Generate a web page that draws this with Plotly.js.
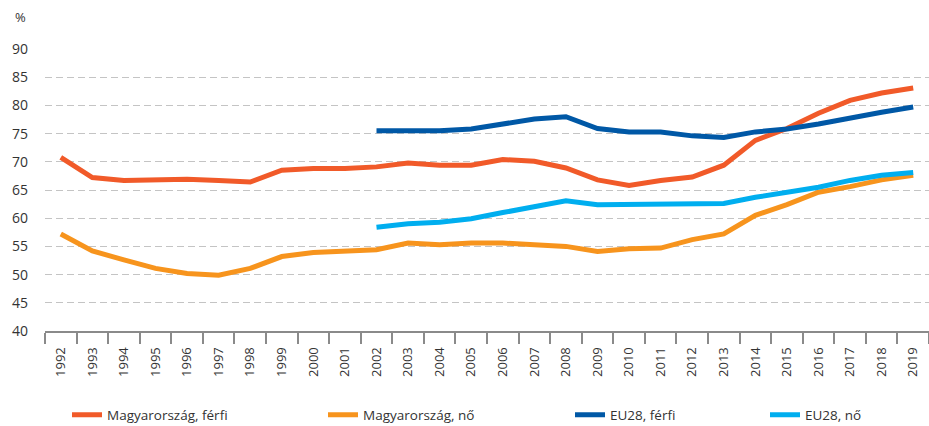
<!DOCTYPE html>
<html>
<head>
<meta charset="utf-8">
<script src="https://cdn.plot.ly/plotly-3.0.1.min.js"></script>
<style>html,body{margin:0;padding:0;background:#fff;}#chart{width:929px;height:426px;}</style>
</head>
<body>
<div id="chart"></div>
<script>
const years = ["1992","1993","1994","1995","1996","1997","1998","1999","2000","2001","2002","2003","2004","2005","2006","2007","2008","2009","2010","2011","2012","2013","2014","2015","2016","2017","2018","2019"];
const huMale   = [70.8,67.2,66.7,66.9,66.9,66.7,66.4,68.5,68.8,68.8,69.1,69.8,69.4,69.4,70.4,70.1,68.9,66.8,65.8,66.7,67.3,69.4,73.8,75.9,78.6,80.9,82.2,83.1];
const huFemale = [57.2,54.2,52.6,51.1,50.2,49.9,51.1,53.2,53.9,54.1,54.4,55.6,55.3,55.6,55.6,55.3,55.0,54.1,54.6,54.7,56.2,57.2,60.5,62.4,64.6,65.6,66.8,67.6];
const euMale   = [null,null,null,null,null,null,null,null,null,null,75.5,75.5,75.5,75.8,76.8,77.6,78.0,75.9,75.3,75.3,74.6,74.3,75.3,75.8,76.7,77.8,78.8,79.7];
const euFemale = [null,null,null,null,null,null,null,null,null,null,58.4,59.0,59.3,59.9,61.0,62.1,63.1,62.4,62.4,62.4,62.6,62.6,63.7,64.6,65.5,66.7,67.6,68.1];
const seriesNames = ["Magyarország, férfi","Magyarország, nő","EU28, férfi","EU28, nő"];
const yTicks = [40,45,50,55,60,65,70,75,80,85,90];

const colors = ["#F15A29","#F7941D","#0058A6","#00AEEF"];
const data = [huMale, huFemale, euMale, euFemale];
const legendIds = ["legend","legend2","legend3","legend4"];

const traces = data.map((d,i)=>({
  type:"scatter", mode:"lines", x:years, y:d, name:seriesNames[i],
  line:{color:colors[i], width:5}, connectgaps:false, legend:legendIds[i], hoverinfo:"skip"
}));

const fontFam = "'Open Sans', 'Noto Sans', sans-serif";
const L = 45, B = 95, T = 49, W = 929, H = 426;
const pw = W - L, ph = H - T - B;
function px2x(p){ return (p - L)/pw; }
function py2y(p){ return (H - B - p)/ph; }

const legendTextX = [107, 363, 610, 805];
const legendBase = {orientation:"h", bgcolor:"rgba(0,0,0,0)", font:{family:fontFam, size:13.5, color:"#333"}, yanchor:"middle", xanchor:"left", borderwidth:0, tracegroupgap:0};
const layout = {
  width:W, height:H,
  margin:{l:L, r:0, t:T, b:B, autoexpand:false},
  paper_bgcolor:"#fff", plot_bgcolor:"#fff",
  showlegend:true,
  xaxis:{
    type:"category", range:[-0.5, 27.5], showgrid:false, zeroline:false,
    showline:true, linecolor:"#8a8a8a", linewidth:2,
    ticks:"outside", tickson:"boundaries", ticklen:11, tickwidth:2, tickcolor:"#8a8a8a",
    ticklabelstandoff:9, automargin:false,
    tickangle:-90, tickfont:{family:fontFam, size:13, color:"#333"}, fixedrange:true
  },
  yaxis:{
    range:[40,90], tickvals:yTicks, ticktext:yTicks.map(String),
    showgrid:true, gridcolor:"#c4c4c4", gridwidth:1, griddash:"7px,4px",
    zeroline:false, showline:false, ticks:"", ticklabelstandoff:16, automargin:false,
    tickfont:{family:fontFam, size:14, color:"#333"}, fixedrange:true
  },
  annotations:[{
    text:"%", xref:"paper", yref:"paper", x:px2x(20), y:py2y(17),
    xanchor:"center", yanchor:"middle", showarrow:false,
    font:{family:fontFam, size:13, color:"#333"}
  }]
};
legendIds.forEach((id,i)=>{
  layout[id] = Object.assign({}, legendBase, {x:px2x(legendTextX[i]-40), y:py2y(415)});
});

Plotly.newPlot("chart", traces, layout, {displayModeBar:false, staticPlot:true});
</script>
</body>
</html>
